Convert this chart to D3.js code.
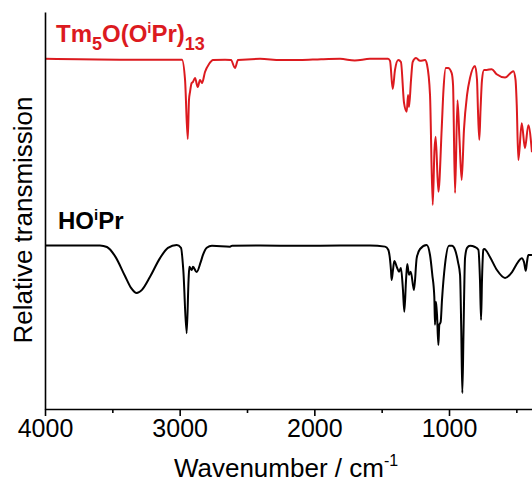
<!DOCTYPE html>
<html><head><meta charset="utf-8">
<script src="https://cdn.jsdelivr.net/npm/d3@7"></script>
<style>
body{margin:0;background:#fff}
svg{display:block}
text{font-family:"Liberation Sans",Arial,sans-serif}
</style>
</head><body>
<svg id="c" width="532" height="489"></svg>
<script>
// Tm5O(OiPr)13 spectrum (wavenumber, relative transmission)
const tmWn = [4000,3443,2983,2960,2940,2931,2923,2911,2901,2886,2866,2849,2834,2812,2782,2752,2663,2619,2589,2567,2403,2250,2106,1950,1809,1700,1587,1453,1438,1418,1401,1377,1357,1334,1314,1304,1297,1282,1270,1245,1215,1178,1163,1141,1121,1108,1099,1079,1054,1041,1024,1007,980,970,955,937,922,906,889,866,844,807,792,785,775,766,755,740,720,683,646,584,522,506,497,485,460,436,411,384];
const tmT  = [88.2,88.0,88.0,82.9,68.0,77.8,79.9,82.1,82.4,83.4,81.1,82.9,82.1,84.9,86.9,87.9,88.0,87.9,85.9,87.9,88.2,87.9,87.9,88.1,88.2,87.8,88.2,88.2,87.7,80.6,85.4,87.9,87.4,77.1,74.9,79.1,76.1,82.9,87.4,88.4,87.7,87.9,86.7,79.1,51.4,65.2,68.6,54.7,70.8,80.4,85.9,85.9,84.6,81.6,54.4,77.8,67.8,57.7,70.3,79.1,83.4,86.4,82.9,75.3,67.8,75.3,82.9,85.4,85.4,85.6,84.3,83.5,85.1,82.9,76.6,62.7,72.0,65.7,71.5,64.7];

// HOiPr spectrum
const ipWn = [4000,3592,3540,3480,3406,3361,3319,3280,3220,3146,3087,3022,2990,2973,2948,2934,2928,2911,2901,2874,2844,2827,2799,2760,2626,2611,2403,2106,1809,1587,1475,1451,1431,1426,1416,1406,1388,1371,1357,1342,1332,1319,1310,1297,1284,1260,1240,1215,1166,1141,1124,1109,1104,1097,1089,1079,1072,1062,1052,1030,1000,978,955,933,918,909,901,892,881,866,844,807,782,770,762,755,745,738,696,644,584,532,488,460,443,430,421,411,384];
const ipT  = [41.2,41.2,40.8,38.5,33.5,30.5,29.2,30.0,33.3,38.0,40.6,41.3,40.6,35.0,19.1,32.5,35.8,35.0,35.8,34.5,37.0,38.8,40.6,41.1,40.9,41.1,41.2,41.1,41.2,41.2,40.9,40.1,35.0,32.5,35.0,37.3,35.8,34.6,35.5,30.0,24.5,32.5,36.5,33.8,34.6,30.0,38.0,40.3,41.3,38.8,33.8,28.2,21.2,27.0,23.7,16.1,21.2,21.9,27.5,36.3,41.1,41.1,40.1,37.0,33.8,19.9,4.0,19.9,38.0,40.6,41.1,40.8,40.1,32.5,22.4,32.5,40.1,40.3,38.3,35.0,33.0,34.5,37.0,38.0,37.0,34.8,37.0,38.8,38.8];

const majorTicks = [4000,3000,2000,1000];
const minorTicks = [3500,2500,1500,500];
const xTitle = "Wavenumber / cm";
const yTitle = "Relative transmission";

const svg = d3.select("#c");
const x = d3.scaleLinear().domain([4000,380]).range([45,532.5]);
const y = d3.scaleLinear().domain([0,100]).range([409,12]);

const line = d3.line().x(d=>x(d[0])).y(d=>y(d[1])).curve(d3.curveMonotoneX);

svg.append("path").datum(tmWn.map((w,i)=>[w,tmT[i]]))
  .attr("d",line).attr("fill","none").attr("stroke","#dc1a1f").attr("stroke-width",2).attr("stroke-linejoin","round");
svg.append("path").datum(ipWn.map((w,i)=>[w,ipT[i]]))
  .attr("d",line).attr("fill","none").attr("stroke","#000").attr("stroke-width",2).attr("stroke-linejoin","round");

// axes
const gx = svg.append("g").attr("transform","translate(0,409)")
  .call(d3.axisBottom(x).tickValues(majorTicks).tickFormat(d3.format("d")).tickSize(7).tickSizeOuter(0).tickPadding(3));
gx.selectAll("text").attr("font-size",25).attr("font-family","Liberation Sans, Arial, sans-serif").attr("fill","#000");
gx.select(".domain").attr("stroke-width",1.6);
gx.selectAll(".tick line").attr("stroke-width",1.6);
svg.append("g").attr("transform","translate(0,409)")
  .call(d3.axisBottom(x).tickValues(minorTicks).tickFormat("").tickSize(4).tickSizeOuter(0))
  .call(g=>{g.select(".domain").remove(); g.selectAll("line").attr("stroke-width",1.6);});
svg.append("g").attr("transform","translate(45,0)")
  .call(d3.axisLeft(y).tickValues([]).tickSizeOuter(0))
  .call(g=>g.select(".domain").attr("stroke-width",1.6));

// titles
const xt = svg.append("text").attr("x",286).attr("y",477).attr("text-anchor","middle").attr("font-size",26);
xt.append("tspan").text(xTitle);
xt.append("tspan").attr("dy",-11).attr("font-size",16).text("-1");

svg.append("text").attr("transform","translate(32,220) rotate(-90)").attr("text-anchor","middle")
  .attr("font-size",26).text(yTitle);

// series labels
const l1 = svg.append("text").attr("x",56).attr("y",42).attr("font-size",24).attr("font-weight","bold").attr("fill","#dc1a1f");
l1.append("tspan").text("Tm");
l1.append("tspan").attr("dy",8).attr("font-size",18).text("5");
l1.append("tspan").attr("dy",-8).text("O(O");
l1.append("tspan").attr("dy",-9).attr("font-size",15).text("i");
l1.append("tspan").attr("dy",9).text("Pr)");
l1.append("tspan").attr("dy",8).attr("font-size",18).text("13");

const l2 = svg.append("text").attr("x",58).attr("y",229).attr("font-size",24).attr("font-weight","bold").attr("fill","#000");
l2.append("tspan").text("HO");
l2.append("tspan").attr("dy",-9).attr("font-size",15).text("i");
l2.append("tspan").attr("dy",9).text("Pr");
</script>
</body></html>
